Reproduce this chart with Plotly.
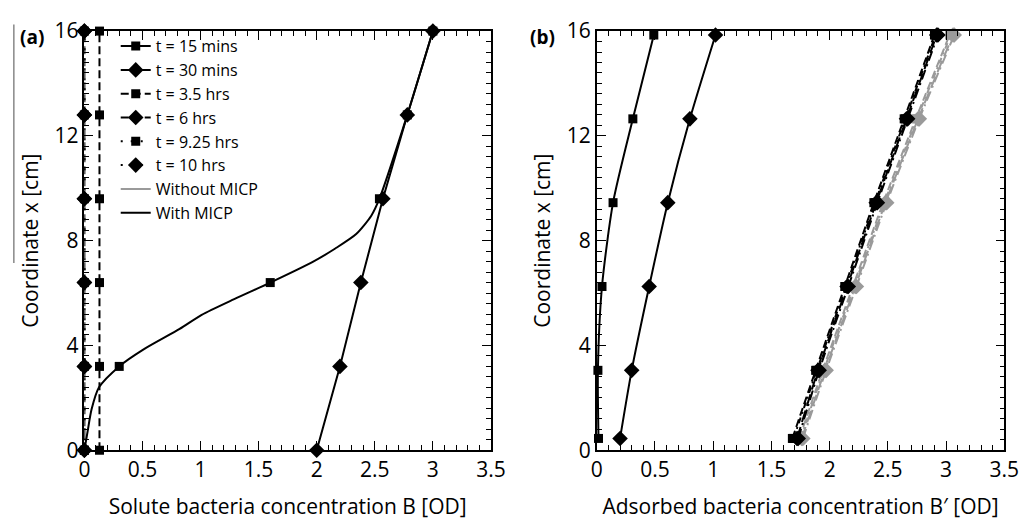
import plotly.graph_objects as go

# ---------------- data: panel (a) ----------------
pos_a = [0, 3.2, 6.4, 9.6, 12.8, 16]
B_15min = [0.0, 0.30, 1.60, 2.54, 2.78, 3.00]
B_30min = [2.00, 2.20, 2.38, 2.57, 2.78, 3.00]
B_3_5h = [0.13, 0.13, 0.13, 0.13, 0.13, 0.13]
B_6h = [0.0, 0.0, 0.0, 0.0, 0.0, 0.0]
B_9_25h = [0.0, 0.0, 0.0, 0.0, 0.0, 0.0]
B_10h = [0.0, 0.0, 0.0, 0.0, 0.0, 0.0]
# simulated profile for t = 15 mins
curve15_B = [0.0, 0.028, 0.062, 0.126, 0.30, 0.51, 0.82, 1.01, 1.29, 1.60, 1.97, 2.16, 2.34, 2.47, 2.54, 2.78, 3.00]
curve15_x = [0.0, 0.72, 1.56, 2.40, 3.20, 3.85, 4.63, 5.17, 5.77, 6.40, 7.20, 7.70, 8.25, 8.95, 9.60, 12.80, 16.0]

# ---------------- data: panel (b) ----------------
pos_b = [0.45, 3.05, 6.25, 9.45, 12.65, 15.85]
Bp_15min = [0.015, 0.01, 0.045, 0.14, 0.31, 0.49]
Bp_30min = [0.20, 0.30, 0.45, 0.61, 0.80, 1.02]
Bp_3_5h_with = [1.68, 1.88, 2.13, 2.38, 2.64, 2.90]
Bp_6h_with = [1.72, 1.90, 2.15, 2.40, 2.66, 2.92]
Bp_9_25h_with = [1.69, 1.89, 2.14, 2.39, 2.65, 2.91]
Bp_10h_with = [1.73, 1.91, 2.16, 2.41, 2.67, 2.93]
Bp_3_5h_without = [1.74, 1.94, 2.20, 2.46, 2.74, 3.03]
Bp_6h_without = [1.76, 1.96, 2.22, 2.48, 2.76, 3.06]
Bp_9_25h_without = [1.75, 1.95, 2.21, 2.47, 2.75, 3.04]
Bp_10h_without = [1.77, 1.97, 2.23, 2.49, 2.77, 3.07]

x_ticks = [0, 0.5, 1, 1.5, 2, 2.5, 3, 3.5]
x_ticklabels = ["0", "0.5", "1", "1.5", "2", "2.5", "3", "3.5"]
y_ticks = [0, 4, 8, 12, 16]

BLACK = "#000000"
GRAY = "#9a9a9a"
FONT = "Open Sans"

fig = go.Figure()

SQ = dict(symbol="square", size=9)
DI = dict(symbol="diamond", size=12)

def add(x, y, xa, ya, color, dash, marker, name=None, legend=False, shape="spline", mode="lines+markers"):
    fig.add_trace(go.Scatter(
        x=x, y=y, xaxis=xa, yaxis=ya, mode=mode, name=name, showlegend=legend,
        cliponaxis=False,
        line=dict(color=color, width=2, dash=dash, shape=shape, smoothing=0.7),
        marker=dict(color=color, **marker) if marker else None,
    ))

# ---- panel (a) ----
add(B_3_5h, pos_a, "x", "y", BLACK, "8px,4px", SQ, "t = 3.5 hrs", True, "linear")
add(B_6h, pos_a, "x", "y", BLACK, "8px,4px", DI, "t = 6 hrs", True, "linear")
add(B_9_25h, pos_a, "x", "y", BLACK, "2px,8px", SQ, "t = 9.25 hrs", True, "linear")
add(B_10h, pos_a, "x", "y", BLACK, "2px,8px", DI, "t = 10 hrs", True, "linear")
add(curve15_B, curve15_x, "x", "y", BLACK, "solid", None, shape="spline", mode="lines")
add(B_15min, pos_a, "x", "y", BLACK, "solid", SQ, None, False, "linear", mode="markers")
add(B_30min, pos_a, "x", "y", BLACK, "solid", DI, "t = 30 mins", True, "linear")

# ---- panel (b) ----
add(Bp_15min, pos_b, "x2", "y2", BLACK, "solid", SQ)
add(Bp_30min, pos_b, "x2", "y2", BLACK, "solid", DI)
add(Bp_3_5h_without, pos_b, "x2", "y2", GRAY, "8px,4px", SQ)
add(Bp_6h_without, pos_b, "x2", "y2", GRAY, "12px,5px", DI)
add(Bp_9_25h_without, pos_b, "x2", "y2", GRAY, "6px,4px,2px,4px", SQ)
add(Bp_10h_without, pos_b, "x2", "y2", GRAY, "10px,4px,2px,4px", DI)
add(Bp_3_5h_with, pos_b, "x2", "y2", BLACK, "8px,4px", SQ)
add(Bp_6h_with, pos_b, "x2", "y2", BLACK, "12px,5px", DI)
add(Bp_9_25h_with, pos_b, "x2", "y2", BLACK, "6px,4px,2px,4px", SQ)
add(Bp_10h_with, pos_b, "x2", "y2", BLACK, "10px,4px,2px,4px", DI)

# legend-only entries
fig.add_trace(go.Scatter(x=[None], y=[None], mode="lines+markers", name="t = 15 mins",
                         line=dict(color=BLACK, width=2), marker=dict(color=BLACK, **SQ)))
fig.add_trace(go.Scatter(x=[None], y=[None], mode="lines", name="Without MICP",
                         line=dict(color=GRAY, width=2)))
fig.add_trace(go.Scatter(x=[None], y=[None], mode="lines", name="With MICP",
                         line=dict(color=BLACK, width=2)))

axis_common = dict(
    range=[0, 3.5], tickmode="array", tickvals=x_ticks, ticktext=x_ticklabels,
    ticks="inside", ticklen=9, tickwidth=1.2, tickcolor="black",
    minor=dict(dtick=0.1, ticks="inside", ticklen=5, tickwidth=1.2, tickcolor="black"),
    showline=True, linecolor="black", linewidth=1.5, mirror="allticks",
    showgrid=False, zeroline=False,
    tickfont=dict(family=FONT, size=21, color="black"),
    title_font=dict(family=FONT, size=21, color="black"),
    title_standoff=18,
)
yaxis_common = dict(
    range=[0, 16], tickmode="array", tickvals=y_ticks,
    ticks="inside", ticklen=9, tickwidth=1.2, tickcolor="black",
    minor=dict(dtick=0.4, ticks="inside", ticklen=5, tickwidth=1.2, tickcolor="black"),
    showline=True, linecolor="black", linewidth=1.5, mirror="allticks",
    showgrid=False, zeroline=False,
    tickfont=dict(family=FONT, size=21, color="black"),
    title_font=dict(family=FONT, size=21, color="black"),
    title_standoff=10,
)

yd = [60 / 520, 1 - 17 / 520]
fig.update_layout(
    width=1034, height=520,
    margin=dict(l=0, r=0, t=0, b=0),
    paper_bgcolor="white", plot_bgcolor="white",
    font=dict(family=FONT, color="black"),
    xaxis=dict(domain=[80 / 1034, 495 / 1034], anchor="y",
               title_text="Solute bacteria concentration B [OD]", **axis_common),
    yaxis=dict(domain=yd, anchor="x", title_text="Coordinate x [cm]", **yaxis_common),
    xaxis2=dict(domain=[603 / 1034, 1019 / 1034], anchor="y2",
                title_text="Adsorbed bacteria concentration B\u2032 [OD]", **axis_common),
    yaxis2=dict(domain=yd, anchor="x2", title_text="Coordinate x [cm]", **yaxis_common),
    legend=dict(x=112 / 1034, y=1 - 15 / 520, xanchor="left", yanchor="top",
                bgcolor="rgba(0,0,0,0)", borderwidth=0, traceorder="normal",
                font=dict(family=FONT, size=16, color="black"), tracegroupgap=0),
    showlegend=True,
    annotations=[
        dict(text="<b>(a)</b>", x=12 / 1034, y=1 - 23 / 520, xref="paper", yref="paper",
             xanchor="left", yanchor="middle", showarrow=False,
             font=dict(family=FONT, size=19, color="black")),
        dict(text="<b>(b)</b>", x=533 / 1034, y=1 - 23 / 520, xref="paper", yref="paper",
             xanchor="left", yanchor="middle", showarrow=False,
             font=dict(family=FONT, size=19, color="black")),
    ],
    shapes=[
        dict(type="line", xref="paper", yref="paper", x0=8 / 1034, x1=8 / 1034,
             y0=1 - 10 / 520, y1=1 - 262 / 520, line=dict(color="#888888", width=1.5)),
    ],
)

ranks = {"t = 15 mins": 1, "t = 30 mins": 2, "t = 3.5 hrs": 3, "t = 6 hrs": 4,
         "t = 9.25 hrs": 5, "t = 10 hrs": 6, "Without MICP": 7, "With MICP": 8}
for tr in fig.data:
    if tr.name in ranks:
        tr.legendrank = ranks[tr.name]

fig.write_html("out.html")
